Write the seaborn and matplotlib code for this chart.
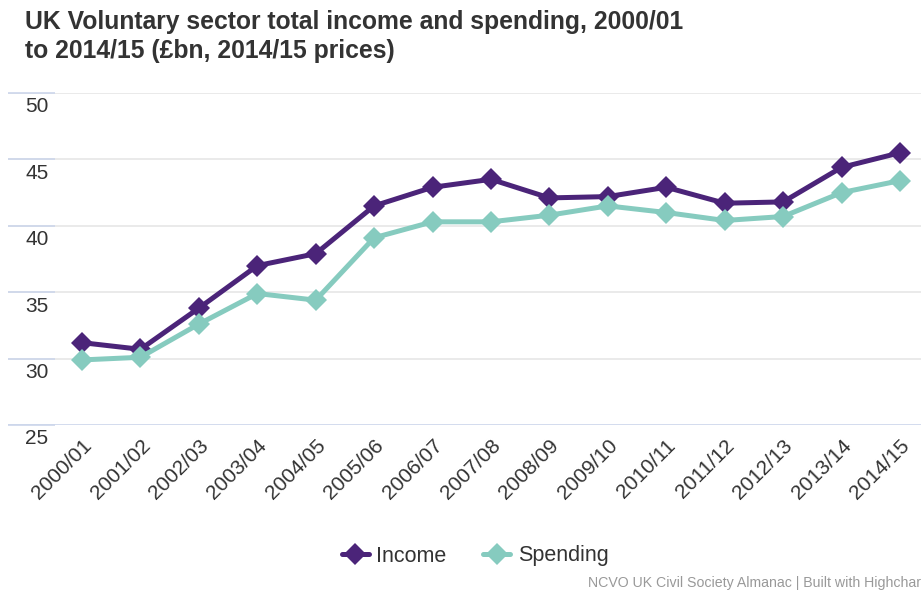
import pandas as pd
import seaborn as sns
import matplotlib.pyplot as plt
from matplotlib.transforms import offset_copy

years = ['2000/01', '2001/02', '2002/03', '2003/04', '2004/05', '2005/06', '2006/07',
         '2007/08', '2008/09', '2009/10', '2010/11', '2011/12', '2012/13', '2013/14', '2014/15']
income = [31.2, 30.7, 33.8, 37.0, 37.9, 41.5, 42.9, 43.5, 42.1, 42.2, 42.9, 41.7, 41.8, 44.4, 45.5]
spending = [29.9, 30.1, 32.6, 34.9, 34.4, 39.1, 40.3, 40.3, 40.8, 41.5, 41.0, 40.4, 40.7, 42.5, 43.4]
y_ticks = [25, 30, 35, 40, 45, 50]

colors = {'Income': '#4b2479', 'Spending': '#86cbbf'}

df = pd.DataFrame({
    'idx': list(range(len(years))) * 2,
    'value': income + spending,
    'series': ['Income'] * len(years) + ['Spending'] * len(years),
})

sns.set_style('white')
plt.rcParams['font.family'] = ['Liberation Sans', 'DejaVu Sans']

fig = plt.figure(figsize=(9.21, 5.92), dpi=100)
ax = fig.add_axes([8 / 921, 1 - 425 / 592, 1 - 8 / 921, (425 - 93) / 592])

sns.lineplot(data=df, x='idx', y='value', hue='series', style='series',
             markers={'Income': 'D', 'Spending': 'D'}, dashes=False,
             palette=colors, linewidth=3.6, markersize=11, markeredgewidth=0,
             ax=ax, legend=True)

ax.set_xlim(-1.267, 14.36)
ax.set_ylim(25, 50)
for s in ax.spines.values():
    s.set_visible(False)
for t in y_ticks:
    ax.axhline(t, color='#ccd6eb' if t == 25 else '#e6e6e6', lw=1.2, zorder=0)
ax.set_yticks(y_ticks)
ax.tick_params(axis='y', left=True, direction='in', length=34, width=1.2, color='#ccd6eb',
               labelleft=False)
# y labels sit just below their grid lines
lbl_tr = offset_copy(ax.get_yaxis_transform(), fig=fig, x=17, y=-14, units='dots')
for t in y_ticks:
    ax.text(0, t, str(t), transform=lbl_tr, ha='left', va='center',
            fontsize=15, color='#333333')

ax.set_xticks(range(len(years)))
ax.set_xticklabels(years, rotation=45, ha='right', rotation_mode='anchor',
                   fontsize=15, color='#333333')
ax.tick_params(axis='x', length=0, pad=8)
for lab in ax.get_xticklabels():
    lab.set_transform(lab.get_transform() + offset_copy(ax.transData, fig=fig, x=2, y=0,
                                                         units='dots') - ax.transData)
ax.set_xlabel('')
ax.set_ylabel('')

handles, labels = ax.get_legend_handles_labels()
ax.legend(handles, labels, loc='center', bbox_to_anchor=(0.516, 1 - 556 / 592),
          bbox_transform=fig.transFigure, ncol=2, frameon=False, fontsize=15.5,
          handlelength=1.25, columnspacing=1.7, handletextpad=0.35, labelcolor='#333333')

fig.text(25 / 921, 1 - 29 / 592, 'UK Voluntary sector total income and spending, 2000/01',
         ha='left', va='baseline', fontsize=17.8, fontweight='bold', color='#333333')
fig.text(25 / 921, 1 - 58 / 592, 'to 2014/15 (£bn, 2014/15 prices)',
         ha='left', va='baseline', fontsize=17.8, fontweight='bold', color='#333333')
fig.text(588 / 921, 1 - 583 / 592, 'NCVO UK Civil Society Almanac | Built with Highcharts',
         ha='left', va='center', fontsize=10.2, color='#999999')

fig.savefig('out.png', dpi=100)
